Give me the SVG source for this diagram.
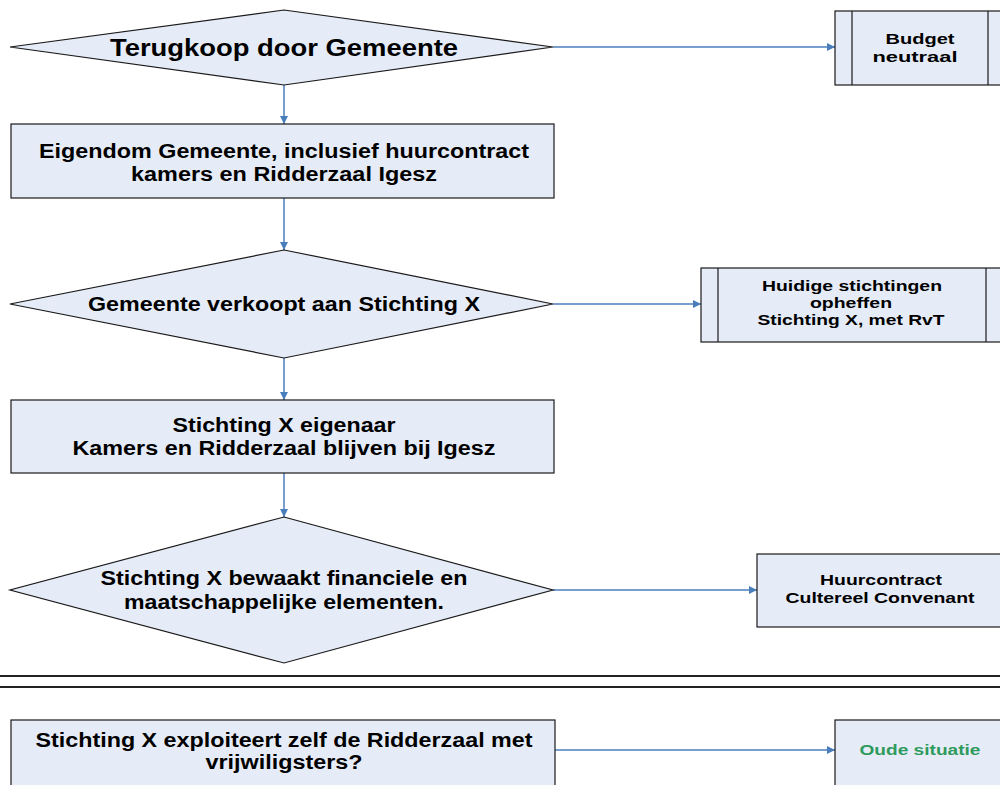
<svg xmlns="http://www.w3.org/2000/svg" width="1000" height="785" viewBox="0 0 1000 785">
<defs>
<style>
.n{fill:#e6ecf7;stroke:#1a1a1a;stroke-width:1.2}
.t{font-family:"Liberation Sans",Arial,sans-serif;font-weight:bold;fill:#000;text-anchor:middle}
.c{stroke:#4a7ebb;stroke-width:1.5;fill:none;marker-end:url(#ah)}
.sep{stroke:#222;stroke-width:2}
</style>
<marker id="ah" viewBox="0 0 10 10" refX="10" refY="5" markerWidth="9" markerHeight="8" markerUnits="userSpaceOnUse" orient="auto">
<path d="M0,0 L10,5 L0,10 z" fill="#4a7ebb"/>
</marker>
</defs>
<rect width="1000" height="785" fill="#fff"/>
<g id="connectors">
<line class="c" x1="284" y1="85" x2="284" y2="124"/>
<line class="c" x1="284" y1="198" x2="284" y2="250"/>
<line class="c" x1="284" y1="358" x2="284" y2="400"/>
<line class="c" x1="284" y1="473" x2="284" y2="517"/>
<line class="c" x1="553" y1="47" x2="835" y2="47"/>
<line class="c" x1="553" y1="304" x2="701" y2="304"/>
<line class="c" x1="553" y1="590" x2="757" y2="590"/>
<line class="c" x1="555" y1="750" x2="835" y2="750"/>
</g>
<g id="n1">
<polygon class="n" points="284,10 553,47 284,85 10,47"/>
<text class="t" x="284" y="56" font-size="24" textLength="348" lengthAdjust="spacingAndGlyphs">Terugkoop door Gemeente</text>
</g>
<g id="n2">
<rect class="n" x="11" y="124" width="543" height="74"/>
<text class="t" x="284" y="158" font-size="20" textLength="490" lengthAdjust="spacingAndGlyphs">Eigendom Gemeente, inclusief huurcontract</text>
<text class="t" x="284" y="181" font-size="20" textLength="306" lengthAdjust="spacingAndGlyphs">kamers en Ridderzaal Igesz</text>
</g>
<g id="n3">
<polygon class="n" points="284,250 553,304 284,358 10,304"/>
<text class="t" x="284" y="311" font-size="20" textLength="392" lengthAdjust="spacingAndGlyphs">Gemeente verkoopt aan Stichting X</text>
</g>
<g id="n4">
<rect class="n" x="11" y="400" width="543" height="73"/>
<text class="t" x="284" y="432" font-size="20" textLength="223" lengthAdjust="spacingAndGlyphs">Stichting X eigenaar</text>
<text class="t" x="284" y="455" font-size="20" textLength="423" lengthAdjust="spacingAndGlyphs">Kamers en Ridderzaal blijven bij Igesz</text>
</g>
<g id="n5">
<polygon class="n" points="284,517 553,590 284,663 10,590"/>
<text class="t" x="284" y="585" font-size="20" textLength="367" lengthAdjust="spacingAndGlyphs">Stichting X bewaakt financiele en</text>
<text class="t" x="284" y="609" font-size="20" textLength="320" lengthAdjust="spacingAndGlyphs">maatschappelijke elementen.</text>
</g>
<g id="n6">
<rect class="n" x="835" y="11" width="180" height="74"/>
<line class="n" x1="852" y1="11" x2="852" y2="85"/>
<line class="n" x1="988" y1="11" x2="988" y2="85"/>
<text class="t" x="920" y="44" font-size="15" textLength="69" lengthAdjust="spacingAndGlyphs">Budget</text>
<text class="t" x="915" y="62" font-size="15" textLength="85" lengthAdjust="spacingAndGlyphs">neutraal</text>
</g>
<g id="n7">
<rect class="n" x="701" y="268" width="310" height="74"/>
<line class="n" x1="718" y1="268" x2="718" y2="342"/>
<line class="n" x1="986" y1="268" x2="986" y2="342"/>
<text class="t" x="852" y="291" font-size="15" textLength="180" lengthAdjust="spacingAndGlyphs">Huidige stichtingen</text>
<text class="t" x="851" y="308" font-size="15" textLength="82" lengthAdjust="spacingAndGlyphs">opheffen</text>
<text class="t" x="851" y="325" font-size="15" textLength="187" lengthAdjust="spacingAndGlyphs">Stichting X, met RvT</text>
</g>
<g id="n8">
<rect class="n" x="757" y="554" width="260" height="73"/>
<text class="t" x="881" y="585" font-size="15" textLength="122" lengthAdjust="spacingAndGlyphs">Huurcontract</text>
<text class="t" x="880" y="603" font-size="15" textLength="189" lengthAdjust="spacingAndGlyphs">Cultereel Convenant</text>
</g>
<g id="separator">
<line class="sep" x1="0" y1="676" x2="1000" y2="676"/>
<line class="sep" x1="0" y1="687" x2="1000" y2="687"/>
</g>
<g id="n9">
<rect class="n" x="11" y="720" width="544" height="80"/>
<text class="t" x="284" y="747" font-size="20" textLength="497" lengthAdjust="spacingAndGlyphs">Stichting X exploiteert zelf de Ridderzaal met</text>
<text class="t" x="284" y="769" font-size="20" textLength="157" lengthAdjust="spacingAndGlyphs">vrijwiligsters?</text>
</g>
<g id="n10">
<rect class="n" x="835" y="720" width="180" height="80"/>
<text class="t" x="920" y="755" font-size="15" style="fill:#2e9a5c" textLength="121" lengthAdjust="spacingAndGlyphs">Oude situatie</text>
</g>
</svg>
